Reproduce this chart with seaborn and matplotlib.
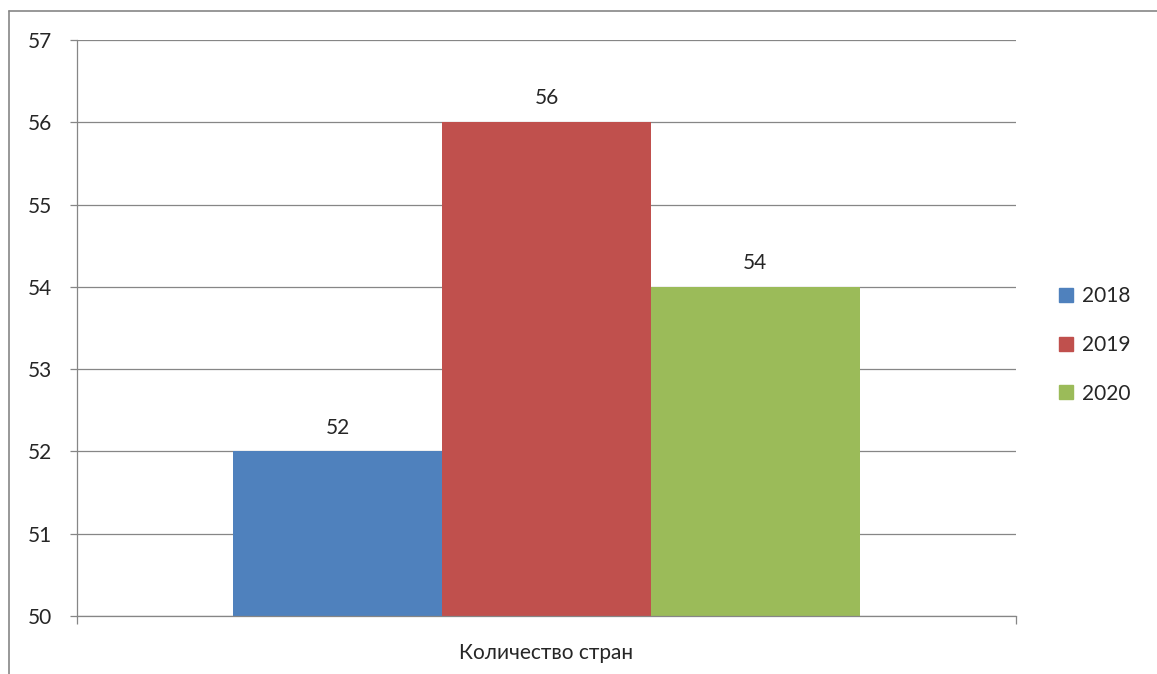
import seaborn as sns
import matplotlib.pyplot as plt
import pandas as pd
from matplotlib.lines import Line2D

# data
category = ["Количество стран"]
years = ["2018", "2019", "2020"]
values = [52, 56, 54]
colors = ["#4F81BD", "#C0504D", "#9BBB59"]

df = pd.DataFrame({
    "cat": category * len(years),
    "year": years,
    "value": values,
})

sns.set_style("white")
plt.rcParams["font.family"] = ["Lato", "DejaVu Sans"]
fs = 15

fig = plt.figure(figsize=(11.57, 6.74), dpi=100)
ax = fig.add_axes([77 / 1157, 1 - 616 / 674, (1016 - 77) / 1157, (616 - 40) / 674])

sns.barplot(data=df, x="cat", y="value", hue="year", palette=colors,
            width=0.667, saturation=1, linewidth=0, ax=ax, legend=True)

for cont in ax.containers:
    ax.bar_label(cont, padding=10, fontsize=fs)

ax.set_ylim(50, 57)
ax.set_xlim(-0.5, 0.5)
ax.set_yticks(range(50, 58))
ax.set_xlabel("")
ax.set_ylabel("")

grey = "#868686"
ax.yaxis.grid(True, color=grey, linewidth=0.9)
ax.set_axisbelow(True)
for s in ["top", "right"]:
    ax.spines[s].set_visible(False)
for s in ["left", "bottom"]:
    ax.spines[s].set_color(grey)
    ax.spines[s].set_linewidth(0.9)

ax.tick_params(axis="y", left=True, length=5, width=0.9, color=grey, pad=13,
               labelsize=fs)
ax.tick_params(axis="x", bottom=False, pad=16, labelsize=fs)
ax.set_xticks([-0.5, 0.5], minor=True)
ax.tick_params(axis="x", which="minor", bottom=True, length=6, width=0.9, color=grey)

# legend on the right
handles = [plt.Rectangle((0, 0), 1, 1, color=c) for c in colors]
ax.get_legend().remove()
fig.legend(handles, years, loc="center left", bbox_to_anchor=(1049 / 1157, 1 - 345 / 674),
           frameon=False, fontsize=fs, handlelength=0.65, handleheight=0.65,
           handletextpad=0.45, labelspacing=1.38, borderpad=0)

# outer chart frame (partially cropped in the original)
fig.add_artist(Line2D([9 / 1157, 9 / 1157], [0, 1 - 11 / 674], color=grey, linewidth=1.2))
fig.add_artist(Line2D([9 / 1157, 1], [1 - 11 / 674, 1 - 11 / 674], color=grey, linewidth=1.2))

fig.savefig("out.png", dpi=100)
